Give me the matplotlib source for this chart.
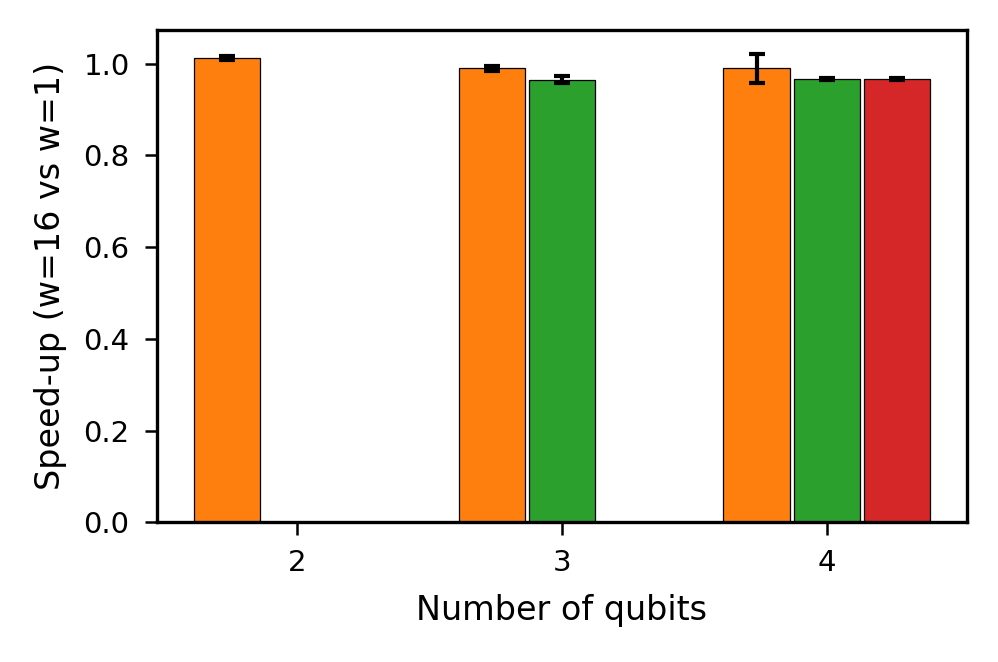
import matplotlib
matplotlib.use("Agg")
import matplotlib.pyplot as plt

qubits = [2, 3, 4]
# speed-up per series; None where there is no bar
orange_vals = [1.013, 0.990, 0.990]
orange_err = [0.004, 0.005, 0.032]
green_vals = [None, 0.965, 0.967]
green_err = [None, 0.008, 0.002]
red_vals = [None, None, 0.967]
red_err = [None, None, 0.002]

series = [
    (orange_vals, orange_err, "#ff7f0e", -0.265),
    (green_vals, green_err, "#2ca02c", 0.0),
    (red_vals, red_err, "#d62728", 0.265),
]

fig = plt.figure(figsize=(3.327, 2.207), dpi=300)
ax = fig.add_axes([0.157, 0.211, 0.812, 0.744])

for vals, errs, color, off in series:
    xs = [q + off for q, v in zip(qubits, vals) if v is not None]
    ys = [v for v in vals if v is not None]
    es = [e for e, v in zip(errs, vals) if v is not None]
    ax.bar(xs, ys, width=0.25, color=color, edgecolor="black", linewidth=0.3,
           yerr=es, capsize=2, error_kw=dict(elinewidth=1.0, capthick=1.0, ecolor="black"))

ax.set_xlim(1.47, 4.53)
ax.set_ylim(0, 1.074)
ax.set_xticks(qubits)
ax.set_xticklabels([str(q) for q in qubits])
ax.tick_params(labelsize=7, width=0.6, length=3)
ax.set_xlabel("Number of qubits", fontsize=8)
ax.set_ylabel("Speed-up (w=16 vs w=1)", fontsize=8)
for s in ax.spines.values():
    s.set_linewidth(0.8)

fig.savefig("out.png", dpi=300)
